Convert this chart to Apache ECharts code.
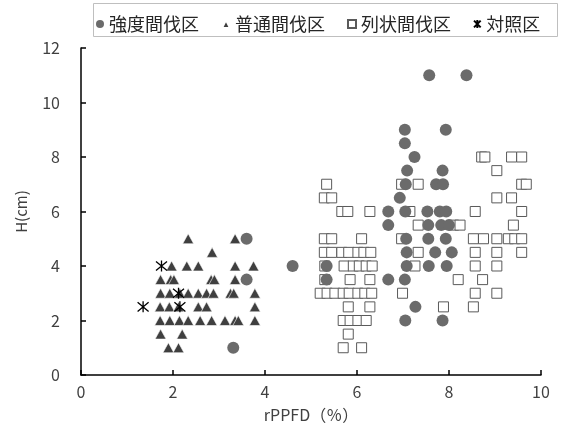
<!DOCTYPE html>
<html>
<head>
<meta charset="utf-8">
<script src="https://cdn.jsdelivr.net/npm/echarts@6/dist/echarts.min.js"></script>
<style>
html,body{margin:0;padding:0;background:#fff;}
#c{width:562px;height:428px;}
</style>
</head>
<body>
<div id="c"></div>
<script>
// Series names
var seriesNames = ['強度間伐区', '普通間伐区', '列状間伐区', '対照区'];
var xTitle = 'rPPFD（％）';
var yTitle = 'H(cm)';

// 強度間伐区 (circles) [rPPFD, H]
var strongPts = [
  [3.31,1],[3.6,5],[3.6,3.5],[4.6,4],[5.34,4],[5.34,3.5],
  [6.68,6],[6.68,5.5],[6.68,3.5],[6.93,6.5],
  [7.04,9],[7.93,9],[7.04,8.5],[7.25,8],[7.09,7.5],[7.86,7.5],
  [7.06,7],[7.72,7],[7.87,7],
  [7.05,6],[7.53,6],[7.8,6],[7.94,6],
  [7.55,5.5],[7.83,5.5],[8.0,5.5],
  [7.07,5],[7.55,5],[7.93,5],
  [7.08,4.5],[7.7,4.5],[8.06,4.5],
  [7.08,4],[7.56,4],[7.95,4],
  [7.04,3.5],[7.27,2.5],[7.05,2],[7.86,2],
  [7.57,11],[8.38,11]
];

// 普通間伐区 (triangles)
var normalPts = [
  [2.33,5],[3.35,5],
  [2.85,4.5],
  [1.97,4],[2.3,4],[2.55,4],[3.35,4],[3.75,4],
  [1.73,3.5],[1.95,3.5],[2.02,3.5],[2.83,3.5],[2.9,3.5],[3.35,3.5],
  [1.73,3],[1.93,3],[2.15,3],[2.33,3],[2.55,3],[2.73,3],[2.88,3],[3.25,3],[3.32,3],[3.78,3],
  [1.72,2.5],[1.92,2.5],[2.12,2.5],[2.55,2.5],[2.73,2.5],[3.78,2.5],
  [1.72,2],[1.93,2],[2.14,2],[2.33,2],[2.59,2],[2.84,2],[3.13,2],[3.35,2],[3.42,2],[3.78,2],
  [1.73,1.5],[2.2,1.5],
  [1.9,1],[2.12,1]
];

// 列状間伐区 (open squares)
var rowPts = [
  [8.71,8],[8.78,8],[9.36,8],[9.58,8],
  [9.04,7.5],
  [5.34,7],[6.97,7],[7.33,7],[9.58,7],[9.68,7],
  [5.29,6.5],[5.45,6.5],[9.04,6.5],[9.36,6.5],
  [5.67,6],[5.8,6],[6.28,6],[7.15,6],[8.57,6],[9.58,6],
  [7.33,5.5],[8.1,5.5],[8.24,5.5],[9.4,5.5],
  [5.29,5],[5.45,5],[6.1,5],[6.97,5],[8.53,5],[8.75,5],[9.04,5],[9.29,5],[9.43,5],[9.58,5],
  [5.29,4.5],[5.45,4.5],[5.67,4.5],[5.82,4.5],[6.02,4.5],[6.15,4.5],[6.3,4.5],[7.33,4.5],[8.57,4.5],[9.04,4.5],[9.58,4.5],
  [5.3,4],[5.72,4],[5.92,4],[6.05,4],[6.2,4],[6.33,4],[7.26,4],[8.57,4],[9.04,4],
  [5.3,3.5],[5.85,3.5],[6.28,3.5],[8.2,3.5],[8.73,3.5],
  [5.2,3],[5.35,3],[5.52,3],[5.7,3],[5.83,3],[6.02,3],[6.17,3],[6.32,3],[6.99,3],[8.57,3],[9.04,3],
  [5.81,2.5],[6.28,2.5],[7.88,2.5],[8.53,2.5],
  [5.7,2],[5.85,2],[6.02,2],[6.2,2],
  [5.81,1.5],
  [5.7,1],[6.1,1]
];

// 対照区 (asterisks)
var controlPts = [
  [1.75,4],[2.12,3],[1.35,2.5],[2.15,2.5]
];

var xTicks = {min:0, max:10, interval:2};
var yTicks = {min:0, max:12, interval:2};

var asterisk = 'path://M-5,-5L5,5M-5,5L5,-5M0,-6L0,6';

var chart = echarts.init(document.getElementById('c'), null, {renderer:'canvas'});
var fontJP = '"Noto Sans CJK JP","Noto Sans",sans-serif';
chart.setOption({
  animation:false,
  backgroundColor:'#fff',
  graphic:[{
    type:'rect', z:-1,
    shape:{x:93.5, y:3.5, width:464, height:33},
    style:{fill:'#fff', stroke:'#bfbfbf', lineWidth:1}
  }],
  legend:{
    left:91, top:10,
    itemWidth:8, itemHeight:8, itemGap:22,
    textStyle:{fontFamily:fontJP, fontSize:18, color:'#262626', padding:[0,0,0,0]},
    data:[
      {name:seriesNames[0], icon:'circle'},
      {name:seriesNames[1], icon:'triangle'},
      {name:seriesNames[2], icon:'rect'},
      {name:seriesNames[3], icon:asterisk}
    ]
  },
  grid:{left:81, right:21, top:48, bottom:48},
  xAxis:{
    type:'value', min:xTicks.min, max:xTicks.max, interval:xTicks.interval,
    name:xTitle, nameLocation:'middle', nameGap:32,
    nameTextStyle:{fontFamily:fontJP, fontSize:16, color:'#404040'},
    axisLine:{lineStyle:{color:'#000', width:1.5}},
    axisTick:{inside:true, length:5, lineStyle:{color:'#000', width:1.5}},
    axisLabel:{fontFamily:fontJP, fontSize:16, color:'#404040', margin:9},
    splitLine:{show:false}
  },
  yAxis:{
    type:'value', min:yTicks.min, max:yTicks.max, interval:yTicks.interval,
    name:yTitle, nameLocation:'middle', nameGap:52, nameRotate:90,
    nameTextStyle:{fontFamily:fontJP, fontSize:15, color:'#404040'},
    axisLine:{show:true, lineStyle:{color:'#000', width:1.5}},
    axisTick:{show:true, inside:true, length:5, lineStyle:{color:'#000', width:1.5}},
    axisLabel:{fontFamily:fontJP, fontSize:16, color:'#404040', margin:21},
    splitLine:{show:false}
  },
  series:[
    {name:seriesNames[0], type:'scatter', data:strongPts, symbol:'circle', symbolSize:12, z:4,
     itemStyle:{color:'#6b6b6b', opacity:1}},
    {name:seriesNames[1], type:'scatter', data:normalPts, symbol:'triangle', symbolSize:[11,10], z:3,
     itemStyle:{color:'#3f3f3f', borderColor:'#ffffff', borderWidth:0.6, opacity:1}},
    {name:seriesNames[2], type:'scatter', data:rowPts, symbol:'rect', symbolSize:10, z:2,
     itemStyle:{color:'#ffffff', borderColor:'#5a5a5a', borderWidth:1, opacity:1}},
    {name:seriesNames[3], type:'scatter', data:controlPts, symbol:asterisk, symbolSize:11, z:5,
     itemStyle:{color:'transparent', borderColor:'#000', borderWidth:1.3, opacity:1}}
  ]
});
</script>
</body>
</html>
